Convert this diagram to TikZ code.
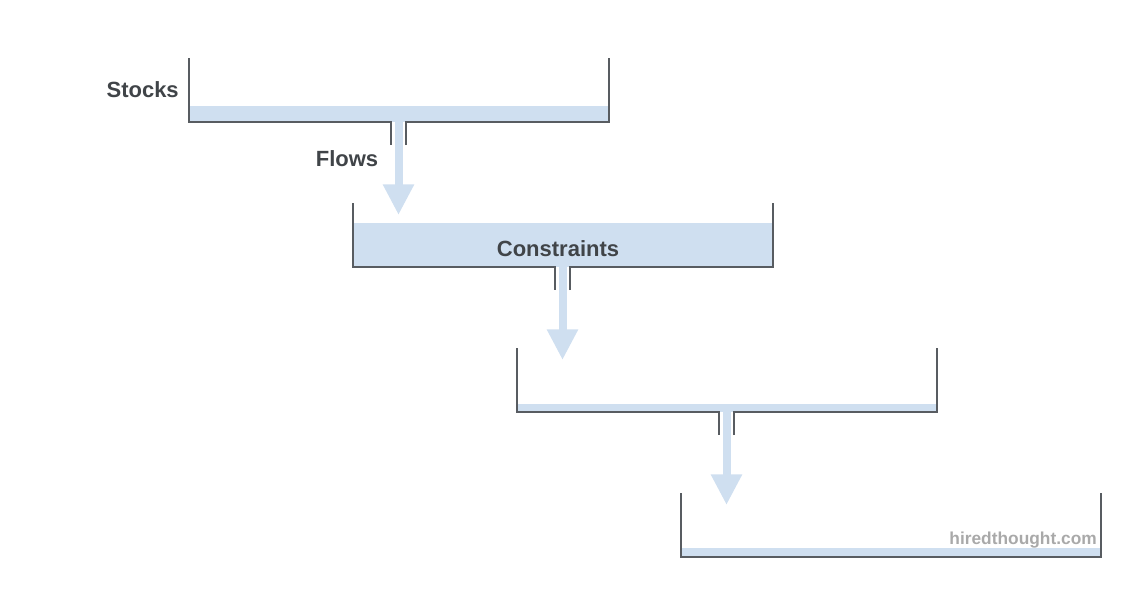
\documentclass[tikz,border=0pt]{standalone}
\usepackage{fontspec}
\setmainfont{Liberation Sans}
\usepackage{tikz}
\usetikzlibrary{arrows.meta}
\definecolor{wall}{HTML}{585C61}
\definecolor{water}{HTML}{CFDFF0}
\definecolor{ink}{HTML}{404448}
\definecolor{faint}{HTML}{A9A9A9}

\begin{document}
\begin{tikzpicture}[x=0.75pt,y=-0.75pt,
    tank/.style={draw=wall,line width=1.6pt,line join=miter},
    level/.style={fill=water,draw=none},
    flow/.style={draw=water,line width=6pt,-{Triangle[length=23pt,width=22pt]}},
    lbl/.style={font=\bfseries\fontsize{16.5}{18}\selectfont,text=ink,inner sep=0pt},
    site/.style={font=\bfseries\fontsize{13}{15}\selectfont,text=faint,inner sep=0pt}]
  \useasboundingbox (0,0) rectangle (1129,615);
  % three tanks with an outlet pipe, each one step down and to the right
  \foreach \i/\lvl in {0/106,1/223,2/404}{
    \begin{scope}[shift={(164*\i,145*\i)}]
      \fill[level] (189,\lvl-145*\i) rectangle (609,122);
      \draw[tank] (189,58) -- (189,122) -- (391,122) -- (391,145);
      \draw[tank] (406,145) -- (406,122) -- (609,122) -- (609,58);
      \coordinate (out\i) at (398.5,122);
      \coordinate (drop\i) at (398.5,215);
    \end{scope}
    \draw[flow] (out\i) -- (drop\i);
  }
  % last tank, closed
  \begin{scope}[shift={(492,435)}]
    \fill[level] (189,113) rectangle (609,122);
    \draw[tank] (189,58) -- (189,122) -- (609,122) -- (609,58);
  \end{scope}
  \node(stocks)[lbl,anchor=east] at (179,90) {Stocks};
  \node(flows)[lbl] at (347,159) {Flows};
  \node(constraints)[lbl] at (558,249) {Constraints};
  \node(credit)[site,anchor=east] at (1097,540) {hiredthought.com};
\end{tikzpicture}
\end{document}
